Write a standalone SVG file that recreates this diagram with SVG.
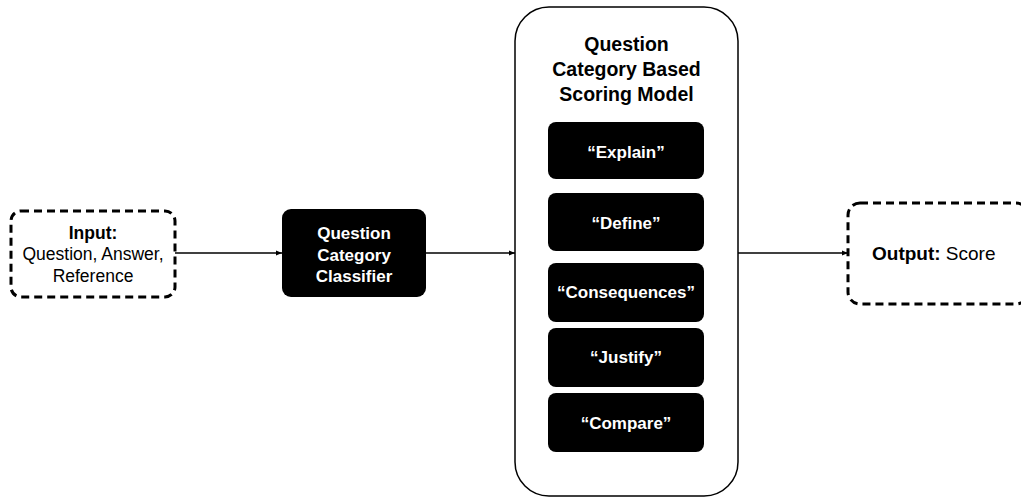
<svg xmlns="http://www.w3.org/2000/svg" width="1021" height="497" viewBox="0 0 1021 497">
<defs>
<style>
.dash{fill:#fff;stroke:#000;stroke-width:3;stroke-dasharray:8 5}
.blk{fill:#000}
.t{font-family:"Liberation Sans",Arial,sans-serif;font-size:17px;text-anchor:middle}
.w{fill:#fff;font-weight:bold}
.b{font-weight:bold}
.in{font-size:17.5px}
.ttl{font-size:19.5px;font-weight:bold}
.edge{stroke:#000;stroke-width:1.3;fill:none;marker-end:url(#ah)}
</style>
<marker id="ah" viewBox="0 0 10 10" refX="10" refY="5" markerWidth="6" markerHeight="6" orient="auto" markerUnits="userSpaceOnUse">
<path d="M0,1 L10,5 L0,9 z" fill="#000"/>
</marker>
</defs>
<rect width="1021" height="497" fill="#fff"/>
<g id="connectors">
<line class="edge" x1="175" y1="253" x2="282" y2="253"/>
<line class="edge" x1="426" y1="253" x2="515" y2="253"/>
<line class="edge" x1="738" y1="253" x2="848" y2="253"/>
</g>
<g id="input">
<rect class="dash" x="11" y="211" width="164" height="86" rx="10"/>
<text class="t in b" x="93" y="239">Input:</text>
<text class="t in" x="93" y="260">Question, Answer,</text>
<text class="t in" x="93" y="282">Reference</text>
</g>
<g id="classifier">
<rect class="blk" x="282" y="209" width="144" height="88" rx="9"/>
<text class="t w" x="354" y="239">Question</text>
<text class="t w" x="354" y="261">Category</text>
<text class="t w" x="354" y="282">Classifier</text>
</g>
<g id="model">
<rect x="515" y="7" width="223" height="489" rx="34" fill="#fff" stroke="#000" stroke-width="1.5"/>
<text class="t ttl" x="626.5" y="51">Question</text>
<text class="t ttl" x="626.5" y="76">Category Based</text>
<text class="t ttl" x="626.5" y="101">Scoring Model</text>
</g>
<g id="explain">
<rect class="blk" x="548" y="122" width="156" height="57" rx="8"/>
<text class="t w" x="626" y="158">“Explain”</text>
</g>
<g id="define">
<rect class="blk" x="548" y="193" width="156" height="58" rx="8"/>
<text class="t w" x="626" y="229">“Define”</text>
</g>
<g id="consequences">
<rect class="blk" x="548" y="263" width="156" height="59" rx="8"/>
<text class="t w" x="626" y="298">“Consequences”</text>
</g>
<g id="justify">
<rect class="blk" x="548" y="328" width="156" height="59" rx="8"/>
<text class="t w" x="626" y="363">“Justify”</text>
</g>
<g id="compare">
<rect class="blk" x="548" y="393" width="156" height="59" rx="8"/>
<text class="t w" x="626" y="429">“Compare”</text>
</g>
<g id="output">
<rect class="dash" x="848" y="203" width="180" height="101" rx="12"/>
<text class="t" x="872" y="260" style="text-anchor:start;font-size:19px"><tspan font-weight="bold">Output:</tspan> Score</text>
</g>
</svg>
